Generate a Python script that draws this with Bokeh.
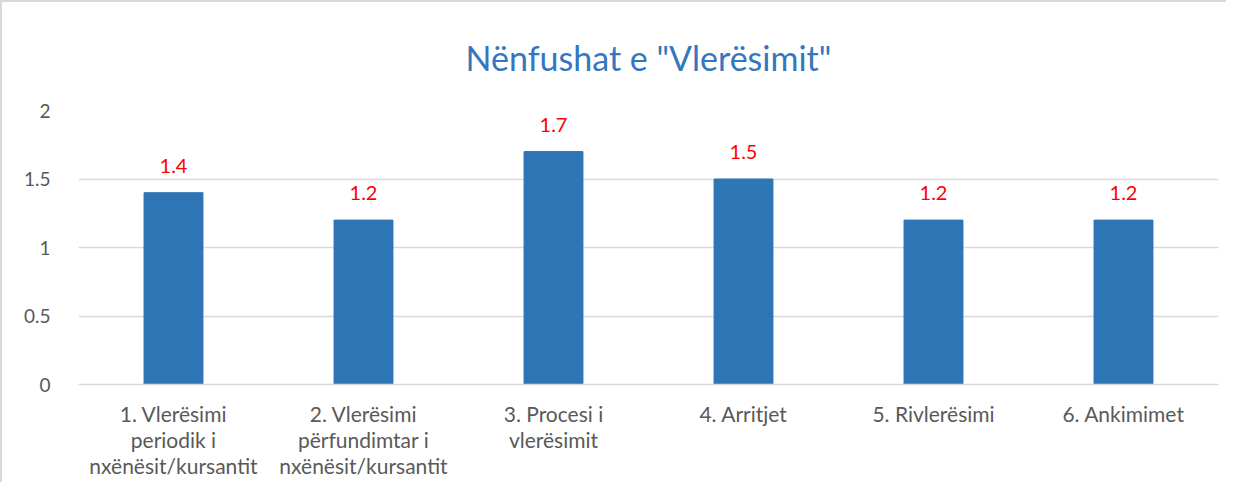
from bokeh.plotting import figure
from bokeh.models import ColumnDataSource, FixedTicker, Range1d, FactorRange
from bokeh.core.properties import value
from bokeh.embed import file_html
from bokeh.resources import INLINE

title_text = 'Nënfushat e "Vlerësimit"'
categories = [
    "1. Vlerësimi\nperiodik i\nnxënësit/kursantit",
    "2. Vlerësimi\npërfundimtar i\nnxënësit/kursantit",
    "3. Procesi i\nvlerësimit",
    "4. Arritjet",
    "5. Rivlerësimi",
    "6. Ankimimet",
]
values = [1.4, 1.2, 1.7, 1.5, 1.2, 1.2]
value_labels = ["1.4", "1.2", "1.7", "1.5", "1.2", "1.2"]
y_ticks = [0, 0.5, 1, 1.5, 2]
y_tick_labels = ["0", "0.5", "1", "1.5", "2"]

FONT = "Lato"

source = ColumnDataSource(dict(cat=categories, val=values, lab=value_labels))

p = figure(
    x_range=FactorRange(*categories, range_padding=0),
    y_range=Range1d(0, 2),
    width=1226, height=482,
    output_backend="svg", toolbar_location=None,
    min_border_left=76, min_border_right=10,
    min_border_top=107, min_border_bottom=100,
    title=title_text,
)
p.styles = {"border-top": "2px solid #d9d9d9", "border-left": "2px solid #d9d9d9"}
p.outline_line_color = None
p.background_fill_color = "white"
p.border_fill_color = "white"

p.title.align = "center"
p.title.text_font = FONT
p.title.text_font_style = "normal"
p.title.text_font_size = "34px"
p.title.text_color = "#3477BE"
p.title.standoff = 65

p.vbar(x="cat", top="val", width=0.31, source=source, color="#2E75B6")
p.text(x="cat", y="val", text="lab", source=source, y_offset=-20,
       text_align="center", text_baseline="bottom",
       text_font=value(FONT), text_font_size="20px", text_color="#FF0000")

p.xgrid.grid_line_color = None
p.ygrid.grid_line_color = "#d9d9d9"
p.ygrid.grid_line_width = 1.5

p.yaxis.ticker = FixedTicker(ticks=y_ticks)
p.yaxis.major_label_overrides = {t: l for t, l in zip(y_ticks, y_tick_labels)}
p.yaxis.axis_line_color = None
p.yaxis.major_tick_line_color = None
p.yaxis.minor_tick_line_color = None
p.yaxis.major_label_standoff = 22
p.yaxis.major_label_text_font = FONT
p.yaxis.major_label_text_font_size = "19px"
p.yaxis.major_label_text_color = "#595959"

p.xaxis.axis_line_color = "#d9d9d9"
p.xaxis.axis_line_width = 1.5
p.xaxis.major_tick_line_color = None
p.xaxis.minor_tick_line_color = None
p.xaxis.major_label_standoff = 10
p.xaxis.major_label_text_font = FONT
p.xaxis.major_label_text_font_size = "21px"
p.xaxis.major_label_text_color = "#595959"
p.xaxis.major_label_text_line_height = 1.05

open("out.html", "w").write(file_html(p, INLINE))
